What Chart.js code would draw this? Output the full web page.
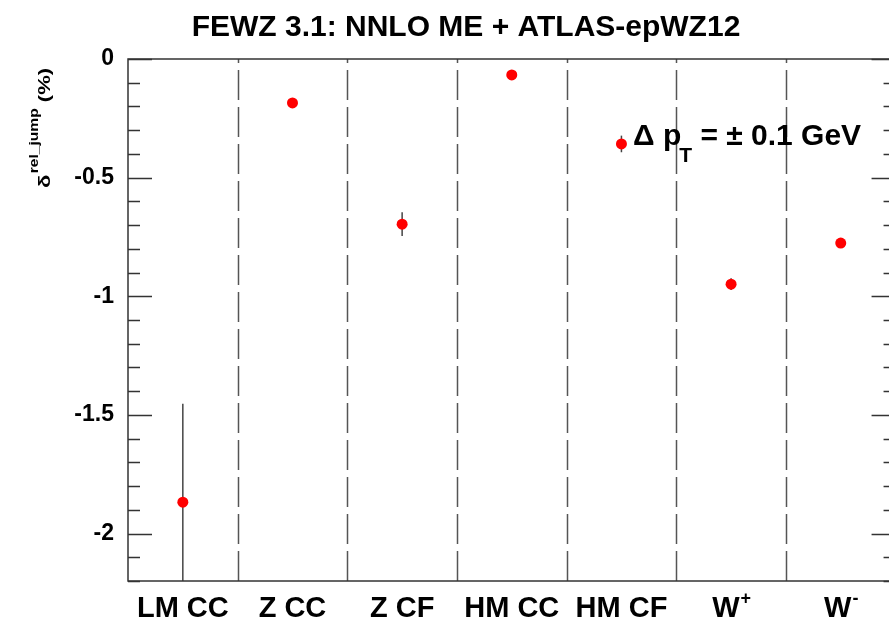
<!DOCTYPE html>
<html>
<head>
<meta charset="utf-8">
<script src="https://cdn.jsdelivr.net/npm/chart.js@4.4.1/dist/chart.umd.min.js"></script>
<style>
  html, body { margin: 0; padding: 0; background: #fff; }
  #wrap { width: 889px; height: 620px; }
</style>
</head>
<body>
<div id="wrap"><canvas id="jumpChart" width="889" height="620"></canvas></div>
<script>
// categories, '^' marks a superscript part
const categories = ['LM CC', 'Z CC', 'Z CF', 'HM CC', 'HM CF', 'W^+', 'W^-'];
const jumpValues = [-1.868, -0.185, -0.696, -0.067, -0.358, -0.949, -0.776];
const jumpErrors = [0.415, 0.008, 0.05, 0.008, 0.035, 0.025, 0.008];
const yTickValues = [0, -0.5, -1, -1.5, -2];
const yMin = -2.2;
const yMax = 0;

const FONT = "'Liberation Sans', Arial, Helvetica, sans-serif";
const AXIS_COLOR = '#333';
// the original frame runs a little past the right edge of the picture
const X_VISIBLE_MAX = 6.89;

// dividers, error bars (under the points)
const underPoints = {
  id: 'underPoints',
  beforeDatasetsDraw(chart) {
    const { ctx, chartArea, scales: { x, y } } = chart;
    ctx.save();
    ctx.beginPath();
    ctx.rect(chartArea.left, chartArea.top, chart.width - chartArea.left, chartArea.bottom - chartArea.top);
    ctx.clip();

    // dashed separators between categories, drawn from the bottom up
    ctx.strokeStyle = '#555';
    ctx.lineWidth = 1.5;
    ctx.setLineDash([30, 7]);
    for (let i = 1; i < categories.length; i++) {
      const px = Math.round(x.getPixelForValue(i)) + 0.5;
      ctx.beginPath();
      ctx.moveTo(px, chartArea.bottom);
      ctx.lineTo(px, chartArea.top);
      ctx.stroke();
    }
    ctx.setLineDash([]);

    // error bars
    ctx.strokeStyle = '#444';
    ctx.lineWidth = 1.5;
    jumpValues.forEach((v, i) => {
      const px = x.getPixelForValue(i + 0.5);
      ctx.beginPath();
      ctx.moveTo(px, y.getPixelForValue(v + jumpErrors[i]));
      ctx.lineTo(px, y.getPixelForValue(v - jumpErrors[i]));
      ctx.stroke();
    });
    ctx.restore();
  }
};

// frame, y tick marks, category labels, titles, annotation
const decorations = {
  id: 'decorations',
  afterDraw(chart) {
    const { ctx, chartArea, scales: { x, y } } = chart;
    const left = chartArea.left;
    const right = x.getPixelForValue(categories.length);
    ctx.save();

    // frame
    ctx.strokeStyle = AXIS_COLOR;
    ctx.lineWidth = 1.5;
    ctx.strokeRect(left, chartArea.top, right - left, chartArea.bottom - chartArea.top);

    // y tick marks on both sides, pointing in
    for (let k = 0; k <= 22; k++) {
      const v = -k / 10;
      const py = Math.round(y.getPixelForValue(v)) + 0.5;
      const len = (k % 5 === 0) ? 24 : 12;
      ctx.beginPath();
      ctx.moveTo(left, py);
      ctx.lineTo(left + len, py);
      ctx.moveTo(right, py);
      ctx.lineTo(right - len, py);
      ctx.stroke();
    }

    // category labels
    ctx.fillStyle = '#000';
    ctx.textBaseline = 'alphabetic';
    categories.forEach((label, i) => {
      const [base, sup] = label.split('^');
      ctx.font = `bold 29px ${FONT}`;
      const wBase = ctx.measureText(base).width;
      let wSup = 0;
      if (sup) {
        ctx.font = `bold 18px ${FONT}`;
        wSup = ctx.measureText(sup).width;
      }
      const cx = x.getPixelForValue(i + 0.5);
      const x0 = cx - (wBase + wSup) / 2;
      ctx.textAlign = 'left';
      ctx.font = `bold 29px ${FONT}`;
      ctx.fillText(base, x0, 617);
      if (sup) {
        ctx.font = `bold 18px ${FONT}`;
        ctx.fillText(sup, x0 + wBase + 1, 604);
      }
    });

    // title
    ctx.font = `bold 30px ${FONT}`;
    ctx.textAlign = 'center';
    ctx.fillText('FEWZ 3.1: NNLO ME + ATLAS-epWZ12', 466, 36);

    // annotation
    ctx.textAlign = 'left';
    let ax = 633;
    ctx.font = `bold 30px ${FONT}`;
    ctx.fillText('Δ p', ax, 145);
    ax += ctx.measureText('Δ p').width;
    ctx.font = `bold 21px ${FONT}`;
    ctx.fillText('T', ax - 2, 162);
    ax += ctx.measureText('T').width - 2;
    ctx.font = `bold 30px ${FONT}`;
    ctx.fillText(' = ± 0.1 GeV', ax, 145);

    // y axis title, rotated, stretched along the text
    ctx.translate(50, 188);
    ctx.rotate(-Math.PI / 2);
    ctx.scale(1.3, 1);
    let tx = 0;
    ctx.font = `bold 17px ${FONT}`;
    ctx.fillText('δ', tx, 0);
    tx += ctx.measureText('δ').width + 1;
    ctx.font = `bold 12px ${FONT}`;
    ctx.fillText('rel_jump', tx, -12);
    tx += ctx.measureText('rel_jump').width;
    ctx.font = `bold 17px ${FONT}`;
    ctx.fillText(' (%)', tx, 0);

    ctx.restore();
  }
};

new Chart(document.getElementById('jumpChart').getContext('2d'), {
  type: 'scatter',
  data: {
    datasets: [{
      label: 'jump',
      data: jumpValues.map((v, i) => ({ x: i + 0.5, y: v })),
      backgroundColor: '#ff0000',
      borderWidth: 0,
      pointRadius: 5.5,
      pointHoverRadius: 5.5
    }]
  },
  options: {
    responsive: false,
    devicePixelRatio: 1,
    animation: false,
    layout: { padding: { top: 59, right: 0, left: 0, bottom: 0 } },
    plugins: {
      legend: { display: false },
      tooltip: { enabled: false },
      title: { display: false }
    },
    scales: {
      x: {
        type: 'linear',
        min: 0,
        max: X_VISIBLE_MAX,
        ticks: { display: false },
        grid: { display: false },
        border: { display: false },
        afterFit: (scale) => { scale.height = 39; }
      },
      y: {
        min: yMin,
        max: yMax,
        afterBuildTicks: (scale) => { scale.ticks = yTickValues.map(v => ({ value: v })); },
        ticks: {
          color: '#000',
          padding: 6,
          font: { family: FONT, size: 23, weight: 'bold' },
          callback: (v) => String(v)
        },
        grid: { display: false },
        border: { display: false },
        afterFit: (scale) => { scale.width = 128; }
      }
    }
  },
  plugins: [underPoints, decorations]
});
</script>
</body>
</html>
